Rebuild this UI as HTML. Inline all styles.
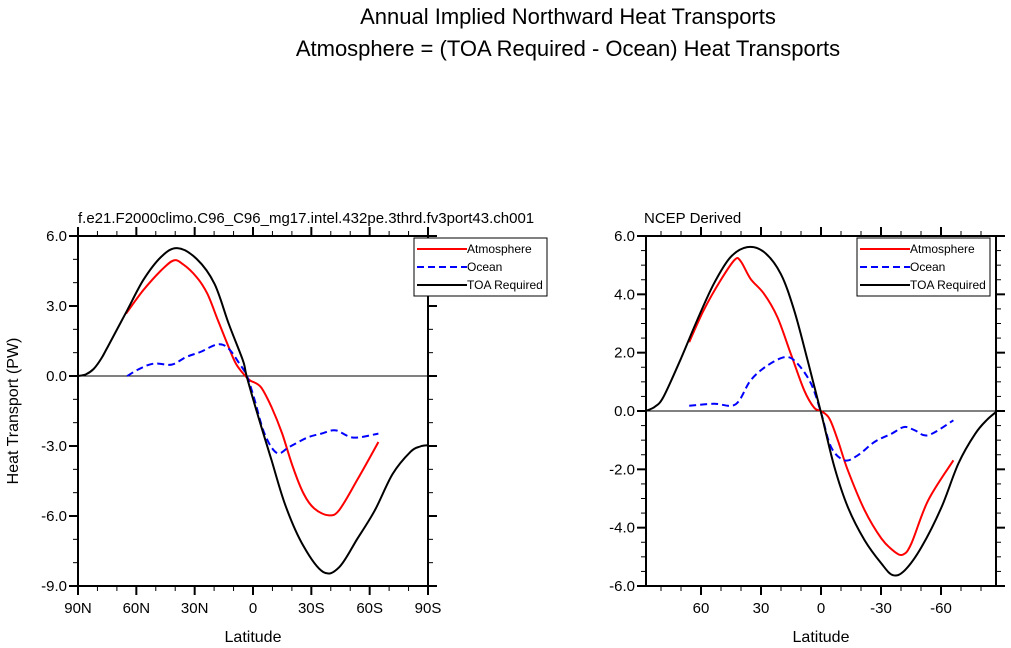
<!DOCTYPE html>
<html><head><meta charset="utf-8">
<style>
body{margin:0;background:#fff;}
svg{display:block;font-family:"Liberation Sans",Arial,sans-serif;}
</style></head>
<body>
<svg id="chart" width="1011" height="648" viewBox="0 0 1011 648">
<text x="568" y="24" font-size="22" text-anchor="middle">Annual Implied Northward Heat Transports</text>
<text x="568" y="56" font-size="22" text-anchor="middle">Atmosphere = (TOA Required - Ocean) Heat Transports</text>
</svg>
<script>
// Left panel data (lat, PW)
const leftTOALat=[90,86,82,78,74.8,65.6,56.5,47.3,39,29,19.8,12.5,5.2,3.3,-2.2,-9.5,-16.9,-26,-36.1,-44.3,-53.5,-62.7,-71.8,-81,-86,-90];
const leftTOAVal=[0,0.07,0.3,0.75,1.24,2.67,4.1,5.1,5.48,5.02,3.95,2.24,0.67,0,-1.6,-3.6,-5.6,-7.3,-8.4,-8.2,-7.0,-5.75,-4.2,-3.25,-3.02,-2.97];
const leftAtmLat=[65.3,56.5,47.3,40.9,36.3,29,23.5,18,12.5,8.8,4.3,1.5,-4,-9.5,-15,-20.5,-26,-31.5,-38.8,-44.3,-53.5,-64.5];
const leftAtmVal=[2.67,3.67,4.52,4.95,4.81,4.24,3.53,2.38,1.24,0.53,0.03,-0.19,-0.47,-1.33,-2.47,-3.9,-5.04,-5.68,-5.97,-5.75,-4.47,-2.83];
const leftOcnLat=[64.7,58.3,51,41.8,34.5,27.1,18,12.5,7,3.3,-0.4,-5.9,-12.3,-18.7,-27.9,-35.2,-42.5,-51.7,-64.5];
const leftOcnVal=[0,0.31,0.53,0.49,0.81,1.03,1.36,1.17,0.53,0.03,-0.9,-2.47,-3.3,-3.04,-2.64,-2.47,-2.33,-2.64,-2.47];
const leftXTicks=[90,60,30,0,-30,-60,-90];
const leftXTickLabels=["90N","60N","30N","0","30S","60S","90S"];
const leftYTicks=[6,3,0,-3,-6,-9];
const leftYTickLabels=["6.0","3.0","0.0","-3.0","-6.0","-9.0"];
// Right panel data
const rightTOALat=[87.6,83,78.8,70.4,62,53.6,45.3,36.9,28.5,20.1,13.4,6.7,0,-6.7,-13.4,-21.8,-30.2,-36,-41.9,-50.3,-60.3,-68.7,-77.1,-83,-87.6];
const rightTOAVal=[0,0.15,0.48,1.74,3.1,4.36,5.27,5.62,5.45,4.7,3.45,1.74,-0.05,-1.92,-3.29,-4.43,-5.23,-5.63,-5.46,-4.66,-3.29,-1.8,-0.78,-0.3,-0.03];
const rightAtmLat=[65.9,58.7,50.3,43.2,40.2,35.2,28.5,21.8,15.1,8.4,3.4,0,-4.2,-8.4,-13.4,-21.8,-30.2,-36.9,-41.1,-45.2,-53.6,-66.2];
const rightAtmVal=[2.36,3.45,4.47,5.18,5.14,4.53,4.02,3.22,1.96,0.71,0.11,0,-0.26,-1.0,-2.03,-3.4,-4.37,-4.83,-4.92,-4.54,-3.06,-1.69];
const rightOcnLat=[65.9,53.6,42.7,35.2,26.8,17.6,11.7,5,0,-5,-11.7,-18.4,-26.8,-35.2,-41.6,-46.9,-53.6,-66.2];
const rightOcnVal=[0.18,0.25,0.23,1.05,1.56,1.85,1.62,0.94,-0.05,-1.23,-1.69,-1.52,-1.06,-0.78,-0.55,-0.66,-0.83,-0.32];
const rightXTicks=[60,30,0,-30,-60];
const rightXTickLabels=["60","30","0","-30","-60"];
const rightYTicks=[6,4,2,0,-2,-4,-6];
const rightYTickLabels=["6.0","4.0","2.0","0.0","-2.0","-4.0","-6.0"];
const seriesNames=["Atmosphere","Ocean","TOA Required"];

const NS="http://www.w3.org/2000/svg";
const svg=document.getElementById('chart');
function mk(tag,attrs,parent){const e=document.createElementNS(NS,tag);for(const k in attrs)e.setAttribute(k,attrs[k]);(parent||svg).appendChild(e);return e;}
function smooth(pts){
  let d="M"+pts[0][0].toFixed(1)+","+pts[0][1].toFixed(1);
  for(let i=0;i<pts.length-1;i++){
    const p0=pts[i-1]||pts[i],p1=pts[i],p2=pts[i+1],p3=pts[i+2]||p2;
    const c1=[p1[0]+(p2[0]-p0[0])/6,p1[1]+(p2[1]-p0[1])/6];
    const c2=[p2[0]-(p3[0]-p1[0])/6,p2[1]-(p3[1]-p1[1])/6];
    d+=" C"+c1[0].toFixed(1)+","+c1[1].toFixed(1)+" "+c2[0].toFixed(1)+","+c2[1].toFixed(1)+" "+p2[0].toFixed(1)+","+p2[1].toFixed(1);
  }
  return d;
}
function panel(cfg){
  const g=mk('g',{});
  
  
  const X=v=>cfg.x0+(cfg.xmax-v)/(cfg.xmax-cfg.xmin)*(cfg.x1-cfg.x0);
  const Y=v=>cfg.y0+(cfg.ymax-v)/(cfg.ymax-cfg.ymin)*(cfg.y1-cfg.y0);
  const zl=mk('line',{x1:cfg.x0,x2:cfg.x1,y1:Y(0),y2:Y(0),stroke:'#000','stroke-width':1},g);
  
  
  const ser=[[cfg.atmLat,cfg.atmVal,'#f00',''],[cfg.ocnLat,cfg.ocnVal,'#00f','7,4'],[cfg.toaLat,cfg.toaVal,'#000','']];
  const snames=['atmosphere-line','ocean-line','toa-required-line'];
  ser.forEach((s,i)=>{
    const pts=s[0].map((la,j)=>[X(la),Y(s[1][j])]);
    const p=mk('path',{d:smooth(pts),fill:'none',stroke:s[2],'stroke-width':2,'stroke-dasharray':s[3]||'none'},g);
    
    
  });
  const fr=mk('rect',{x:cfg.x0,y:cfg.y0,width:cfg.x1-cfg.x0,height:cfg.y1-cfg.y0,fill:'none',stroke:'#000','stroke-width':2},g);
  
  
  for(let v=Math.ceil(cfg.xmin/10)*10;v<=cfg.xmax;v+=10){
    const major=cfg.xTicks.includes(v);const L=major?9:5;const x=X(v);
    mk('line',{x1:x,x2:x,y1:cfg.y1,y2:cfg.y1+L,stroke:'#000','stroke-width':major?2:1},g);
    mk('line',{x1:x,x2:x,y1:cfg.y0,y2:cfg.y0-L,stroke:'#000','stroke-width':major?2:1},g);
  }
  cfg.xTicks.forEach((v,i)=>{
    const t=mk('text',{x:X(v),y:cfg.y1+27,'font-size':15,'text-anchor':'middle'},g);
    t.textContent=cfg.xLabels[i];
    
    
  });
  const step=cfg.yMinor;
  for(let v=cfg.ymin;v<=cfg.ymax+1e-6;v+=step){
    const major=cfg.yTicks.some(t=>Math.abs(t-v)<1e-6);const L=major?9:5;const y=Y(v);
    mk('line',{x1:cfg.x0,x2:cfg.x0-L,y1:y,y2:y,stroke:'#000','stroke-width':major?2:1},g);
    mk('line',{x1:cfg.x1,x2:cfg.x1+L,y1:y,y2:y,stroke:'#000','stroke-width':major?2:1},g);
  }
  cfg.yTicks.forEach((v,i)=>{
    const t=mk('text',{x:cfg.x0-11,y:Y(v)+5,'font-size':15,'text-anchor':'end'},g);
    t.textContent=cfg.yLabels[i];
    
    
  });
  const xt=mk('text',{x:(cfg.x0+cfg.x1)/2,y:642,'font-size':16,'text-anchor':'middle'},g);
  xt.textContent='Latitude';
  
  
  const st=mk('text',{x:cfg.x0+cfg.subDx,y:223,'font-size':15},g);
  st.textContent=cfg.subtitle;
  
  
  const lg=mk('g',{},g);
  
  
  mk('rect',{x:cfg.lx,y:238,width:133,height:58,fill:'#fff',stroke:'#000','stroke-width':1},lg);
  seriesNames.forEach((n,i)=>{
    const y=249+i*18;
    const e=mk('g',{},lg);
    
    
    mk('line',{x1:cfg.lx+3,x2:cfg.lx+53,y1:y,y2:y,stroke:ser[i][2],'stroke-width':2,'stroke-dasharray':ser[i][3]||'none'},e);
    const t=mk('text',{x:cfg.lx+53,y:y+4,'font-size':12},e);
    t.textContent=n;
  });
}
panel({name:'left-panel-model',x0:78,x1:428,y0:236,y1:586,xmin:-90,xmax:90,ymin:-9,ymax:6,yMinor:1,
  toaLat:leftTOALat,toaVal:leftTOAVal,atmLat:leftAtmLat,atmVal:leftAtmVal,ocnLat:leftOcnLat,ocnVal:leftOcnVal,
  xTicks:leftXTicks,xLabels:leftXTickLabels,yTicks:leftYTicks,yLabels:leftYTickLabels,
  subtitle:'f.e21.F2000climo.C96_C96_mg17.intel.432pe.3thrd.fv3port43.ch001',subDx:0,lx:414});
panel({name:'right-panel-ncep',x0:646,x1:996,y0:236,y1:586,xmin:-87.5,xmax:87.5,ymin:-6,ymax:6,yMinor:0.5,
  toaLat:rightTOALat,toaVal:rightTOAVal,atmLat:rightAtmLat,atmVal:rightAtmVal,ocnLat:rightOcnLat,ocnVal:rightOcnVal,
  xTicks:rightXTicks,xLabels:rightXTickLabels,yTicks:rightYTicks,yLabels:rightYTickLabels,
  subtitle:'NCEP Derived',subDx:-2,lx:857});
const yt=mk('text',{x:0,y:0,'font-size':16,'text-anchor':'middle',transform:'translate(18,411) rotate(-90)'});
yt.textContent='Heat Transport (PW)';


</script>
</body></html>
